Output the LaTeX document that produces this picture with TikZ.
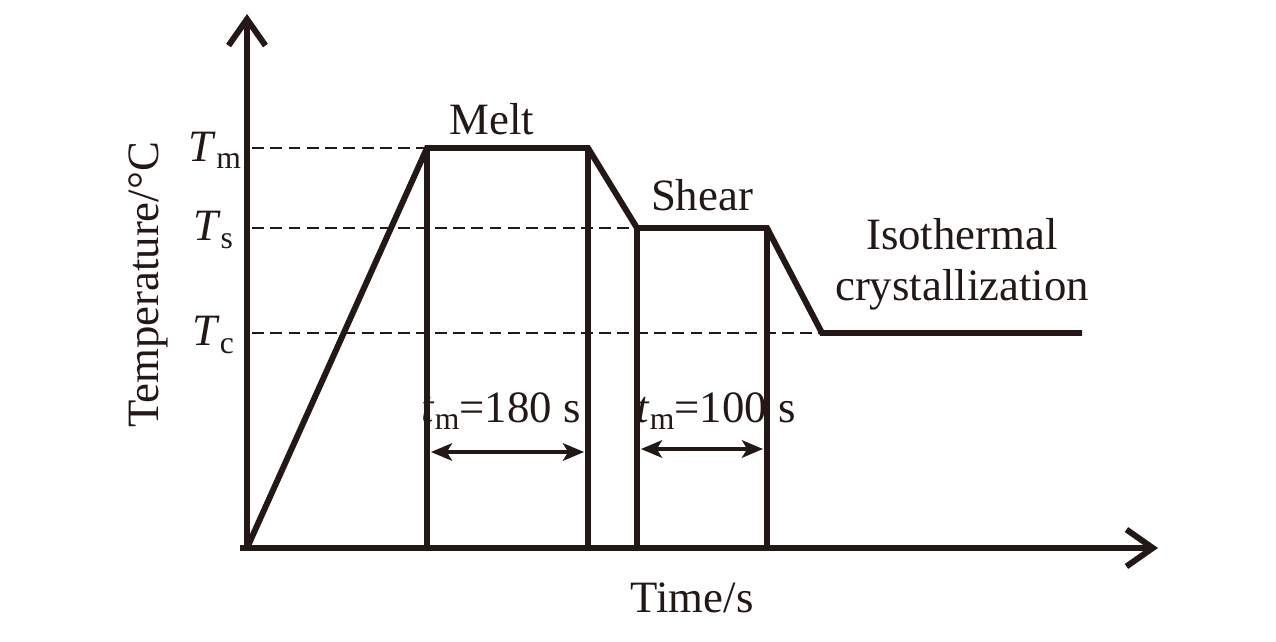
\documentclass[tikz,border=0pt]{standalone}
\usepackage{fontspec}
\setmainfont{Liberation Serif}
\usetikzlibrary{arrows.meta}
\definecolor{ink}{HTML}{231815}
\newcommand{\lowsub}[2]{\textit{#1}\raisebox{-0.35ex}{\fontsize{18}{18}\selectfont #2}}

\begin{document}
\begin{tikzpicture}[x=0.02cm, y=-0.02cm,
   every node/.style={text=ink, font=\fontsize{25.5}{29}\selectfont, inner sep=0pt},
   curve/.style={draw=ink, line width=3.4pt, line join=miter},
   guide/.style={draw=ink, line width=1.7pt, dash pattern=on 6.8pt off 3.6pt},
   axis/.style={draw=ink, line width=3.4pt, -{Straight Barb[length=15pt, width=21pt]}},
   span/.style={draw=ink, line width=1.9pt, {Stealth[length=12pt, width=10pt, inset=3pt]}-{Stealth[length=12pt, width=10pt, inset=3pt]}}]
\useasboundingbox (0,0) rectangle (1276,642);

% points of the profile
\coordinate (o) at (247,548);
\coordinate (m1) at (427,148);
\coordinate (m2) at (588,148);
\coordinate (s1) at (637,228);
\coordinate (s2) at (767,228);
\coordinate (c1) at (822,333);
\coordinate (c2) at (1082,333);
\coordinate (ytip) at (247,14);
\coordinate (xtip) at (1158,548);

% axes
\draw[axis] (o) -- (ytip);
\draw[axis] ([xshift=-4]o) -- (xtip);

% levels
\node (tm) at (215,150) {\lowsub{T}{m}};
\node (ts) at (213,230) {\lowsub{T}{s}};
\node (tc) at (213,335) {\lowsub{T}{c}};
\draw[guide] (252,148) -- (m1);
\draw[guide] (252,228) -- (s1);
\draw[guide] (252,333) -- (c1);

% temperature profile
\draw[curve] (o) -- (m1) -- (m2) -- (s1) -- (s2) -- (c1) -- (c2);
\foreach \p in {m1,m2,s1,s2}
  \draw[curve] (\p) -- (\p |- o);

% stages
\node (melt) at (492,119) {Melt};
\node (shear) at (702,195) {Shear};
\node[align=center] (iso) at (962,264) {Isothermal\\crystallization};

% durations
\node (d1) at (501,411) {\lowsub{t}{m}=180 s};
\node (d2) at (716,411) {\lowsub{t}{m}=100 s};
\draw[span] (431,452) -- (584,452);
\draw[span] (641,449) -- (763,449);

% axis titles
\node[rotate=90] (ylab) at (148,285) {Temperature/\textdegree C};
\node (xlab) at (692,598) {Time/s};
\end{tikzpicture}
\end{document}
